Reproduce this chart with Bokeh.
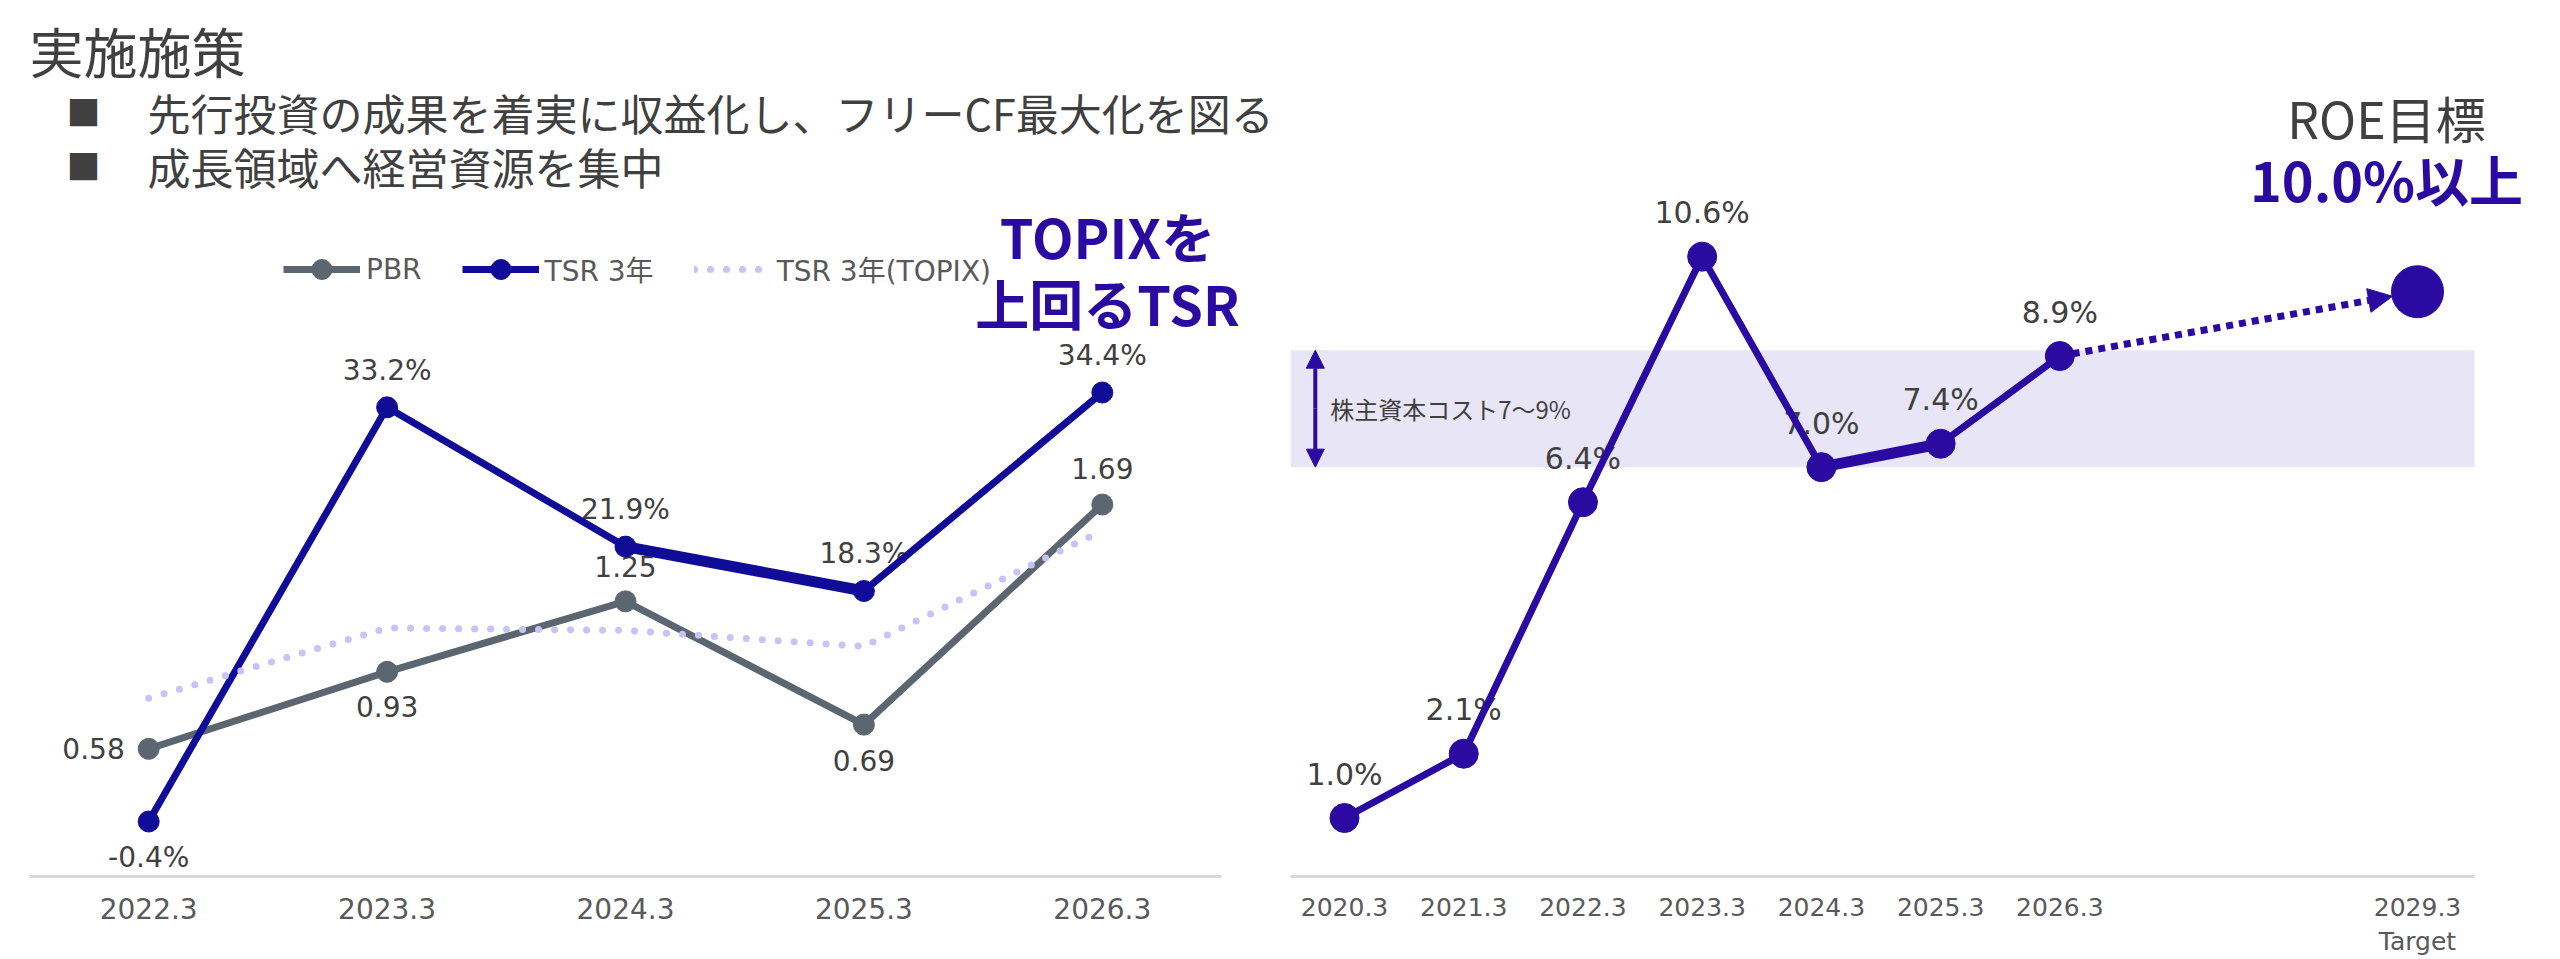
from bokeh.plotting import figure
from bokeh.layouts import row
from bokeh.models import (Range1d, FixedTicker, Legend, LegendItem, Label, Arrow,
                          NormalHead, BoxAnnotation, ColumnDataSource)
from bokeh.core.properties import value
from bokeh.embed import file_html
from bokeh.resources import INLINE

# ---------------- data ----------------
heading = "実施施策"
bullets = ["先行投資の成果を着実に収益化し、フリーCF最大化を図る", "成長領域へ経営資源を集中"]

fiscal_years = ["2022.3", "2023.3", "2024.3", "2025.3", "2026.3"]
pbr = [0.58, 0.93, 1.25, 0.69, 1.69]
tsr_3y = [-0.4, 33.2, 21.9, 18.3, 34.4]
tsr_3y_topix = [9.6, 15.3, 15.1, 13.8, 23.2]
tsr_callout = ["TOPIXを", "上回るTSR"]

roe_years = [2020, 2021, 2022, 2023, 2024, 2025, 2026]
roe = [1.0, 2.1, 6.4, 10.6, 7.0, 7.4, 8.9]
roe_target_year = 2029
roe_target = 10.0
cost_of_equity = (7.0, 9.0)

# ---------------- style ----------------
TEXT = "#404040"
TICK = "#595959"
PBR_C = "#5b6670"
TSR_C = "#100c98"
TOPIX_C = "#c8c2f7"
ROE_C = "#2a0aa0"
BAND_C = "#e8e6f6"
AXIS_C = "#d9d9d9"
JP = "Noto Sans CJK JP"
NUM = "DejaVu Sans"
MIXED = "DejaVu Sans, Noto Sans CJK JP"

W_L, H = 1290, 959
W_R = 2560 - W_L
BASE_Y = 878                 # canvas y of both baselines
L_X0, L_AX1 = 29, 1221       # left frame start / end of left baseline (canvas x)
R_X0, R_AX1 = 1290, 2474     # right frame start / end of right baseline (canvas x)


def style_fig(p):
    p.outline_line_color = None
    p.grid.visible = False
    p.background_fill_color = "white"
    p.border_fill_color = "white"


def style_xaxis(ax, size, standoff, bounds):
    ax.bounds = bounds
    ax.axis_line_color = AXIS_C
    ax.axis_line_width = 3
    ax.major_tick_line_color = None
    ax.minor_tick_line_color = None
    ax.major_label_text_font = NUM
    ax.major_label_text_font_size = size
    ax.major_label_text_color = TICK
    ax.major_label_standoff = standoff


# ================= left: PBR / TSR =================
idx = list(range(len(fiscal_years)))
lx0, lx1 = -0.5, len(idx) - 0.5
l_ppu = (L_AX1 - L_X0) / (lx1 - lx0)
left = figure(width=W_L, height=H, x_range=Range1d(lx0, lx1 + (W_L - L_AX1) / l_ppu),
              y_range=Range1d(-4.86, 66.2), output_backend="svg", toolbar_location=None,
              min_border_left=L_X0, min_border_right=0,
              min_border_top=0, min_border_bottom=H - BASE_Y, y_axis_location=None)
left.extra_y_ranges = {"pbr": Range1d(0, 3.98)}
style_fig(left)
style_xaxis(left.xaxis[0], "28px", 15, (lx0, lx1))
left.xaxis[0].ticker = FixedTicker(ticks=idx)
left.xaxis[0].major_label_overrides = {i: fy for i, fy in zip(idx, fiscal_years)}

src = ColumnDataSource(dict(
    x=idx, pbr=pbr, tsr=tsr_3y, topix=tsr_3y_topix,
    pbr_txt=[f"{v:.2f}" for v in pbr],
    tsr_txt=[f"{v:.1f}%" for v in tsr_3y],
    tsr_dy=[36 if v < 0 else -37 for v in tsr_3y],
    pbr_dx=[-24, 0, 0, 0, 0],
    pbr_dy=[0, 35, -35, 36, -36],
    pbr_align=["right", "center", "center", "center", "center"],
))

# value labels (drawn under the lines)
left.text(x="x", y="tsr", text="tsr_txt", source=src, y_offset="tsr_dy",
          text_align="center", text_baseline="middle", text_color=TEXT,
          text_font=value(NUM), text_font_size="28px")
left.text(x="x", y="pbr", text="pbr_txt", source=src, y_range_name="pbr",
          x_offset="pbr_dx", y_offset="pbr_dy", text_align="pbr_align",
          text_baseline="middle", text_color=TEXT,
          text_font=value(NUM), text_font_size="28px")

pbr_line = left.line("x", "pbr", source=src, y_range_name="pbr",
                     line_color=PBR_C, line_width=7)
pbr_pts = left.scatter("x", "pbr", source=src, y_range_name="pbr",
                       size=21, color=PBR_C)
tsr_line = left.line("x", "tsr", source=src, line_color=TSR_C, line_width=7)
left.line(x=idx[2:4], y=tsr_3y[2:4], line_color=TSR_C, line_width=11)
tsr_pts = left.scatter("x", "tsr", source=src, size=21, color=TSR_C)
topix_line = left.line("x", "topix", source=src, line_color=TOPIX_C, line_width=7,
                       line_dash="0 16", line_cap="round")

legend = Legend(items=[
    LegendItem(label="PBR", renderers=[pbr_line, pbr_pts]),
    LegendItem(label="TSR 3年", renderers=[tsr_line, tsr_pts]),
    LegendItem(label="TSR 3年(TOPIX)", renderers=[topix_line]),
], orientation="horizontal", location=(254, 582), glyph_width=77, glyph_height=50,
    label_height=50, label_standoff=6, spacing=40, padding=0, margin=0,
    border_line_color=None, background_fill_alpha=0,
    label_text_font=MIXED, label_text_font_size="28px", label_text_color=TICK)
left.add_layout(legend)


def left_label(cx, cy, text, **kw):
    left.add_layout(Label(x=cx - L_X0, y=BASE_Y - cy, x_units="screen", y_units="screen",
                          text=text, text_baseline="middle", text_font=JP, **kw))


left_label(29, 52, heading, text_font_size="54px", text_color=TEXT)
for i, b in enumerate(bullets):
    cy = 113 + 54 * i
    left_label(83, cy, "■", text_font_size="34px", text_color=TEXT, text_align="center")
    left_label(147, cy, b, text_font_size="43px", text_color=TEXT)
left_label(1107, 237, tsr_callout[0], text_font_size="54px", text_font_style="bold",
           text_color=ROE_C, text_align="center")
left_label(1107, 304, tsr_callout[1], text_font_size="54px", text_font_style="bold",
           text_color=ROE_C, text_align="center")

# ================= right: ROE =================
rx0, rx1 = 2019.547, 2029.478
r_ppu = (R_AX1 - R_X0) / (rx1 - rx0)
right = figure(width=W_R, height=H, x_range=Range1d(rx0, rx1 + (2560 - R_AX1) / r_ppu),
               y_range=Range1d(0, 14.98), output_backend="svg", toolbar_location=None,
               min_border_left=0, min_border_right=0,
               min_border_top=0, min_border_bottom=H - BASE_Y, y_axis_location=None)
style_fig(right)
style_xaxis(right.xaxis[0], "25px", 10, (rx0, rx1))
ticks = roe_years + [roe_target_year]
right.xaxis[0].ticker = FixedTicker(ticks=ticks)
overrides = {y: f"{y}.3" for y in roe_years}
overrides[roe_target_year] = f"{roe_target_year}.3\nTarget"
right.xaxis[0].major_label_overrides = overrides

lo, hi = cost_of_equity
right.add_layout(BoxAnnotation(bottom=lo, top=hi, right=rx1, fill_color=BAND_C,
                               fill_alpha=1, line_color=None, level="underlay"))
cost_x = roe_years[0] - 0.245
for y_tip in (hi, lo):
    right.add_layout(Arrow(x_start=cost_x, y_start=(lo + hi) / 2, x_end=cost_x, y_end=y_tip,
                           line_color=ROE_C, line_width=4,
                           end=NormalHead(size=18, fill_color=ROE_C, line_color=ROE_C)))
right.add_layout(Label(x=roe_years[0] - 0.12, y=(lo + hi) / 2,
                       text=f"株主資本コスト{lo:.0f}～{hi:.0f}%", text_baseline="middle",
                       text_font=JP, text_font_size="24px", text_color=TEXT))

# dotted path toward the target
gap = 0.21
x_end = roe_target_year - gap
y_end = roe[-1] + (roe_target - roe[-1]) * (x_end - roe_years[-1]) / (roe_target_year - roe_years[-1])
right.add_layout(Arrow(x_start=roe_years[-1], y_start=roe[-1], x_end=x_end, y_end=y_end,
                       line_color=ROE_C, line_width=7, line_dash="7 6", level="underlay",
                       end=NormalHead(size=24, fill_color=ROE_C, line_color=ROE_C)))

rsrc = ColumnDataSource(dict(x=roe_years, y=roe, txt=[f"{v:.1f}%" for v in roe]))
right.text(x="x", y="y", text="txt", source=rsrc, y_offset=-44, text_align="center",
           text_baseline="middle", text_color=TEXT, text_font=value(NUM),
           text_font_size="30px")
right.line("x", "y", source=rsrc, line_color=ROE_C, line_width=7)
right.line(x=roe_years[4:6], y=roe[4:6], line_color=ROE_C, line_width=11)
right.scatter("x", "y", source=rsrc, size=29, color=ROE_C)
right.scatter(x=[roe_target_year], y=[roe_target], size=52, color=ROE_C)


def right_label(cx, cy, text, **kw):
    right.add_layout(Label(x=cx - R_X0, y=BASE_Y - cy, x_units="screen", y_units="screen",
                           text=text, text_baseline="middle", text_align="center",
                           text_font=JP, **kw))


right_label(2386, 118, "ROE目標", text_font_size="50px", text_color=TEXT)
right_label(2386, 180, f"{roe_target:.1f}%以上", text_font_size="54px",
            text_font_style="bold", text_color=ROE_C)

layout = row(left, right)
open("out.html", "w").write(file_html(layout, INLINE))
